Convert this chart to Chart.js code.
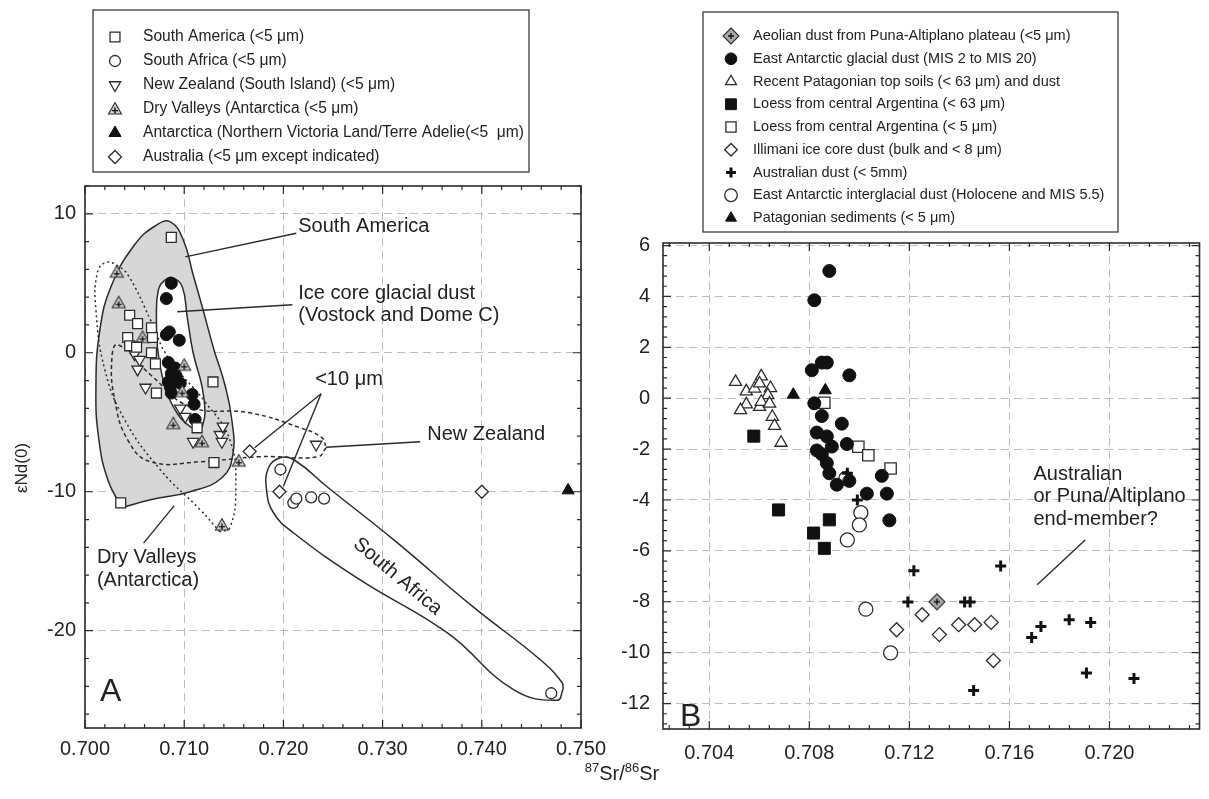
<!DOCTYPE html>
<html>
<head>
<meta charset="utf-8">
<script src="https://cdn.jsdelivr.net/npm/chart.js@4.4.1/dist/chart.umd.min.js"></script>
<style>
  body { margin: 0; background: #fff; width: 1209px; height: 799px; position: relative; overflow: hidden;
         font-family: "Liberation Sans", Arial, sans-serif; }
  #cA { position: absolute; left: 0; top: 0; }
  #cB { position: absolute; left: 600px; top: 0; }
  #xTitle { position: absolute; left: 542px; top: 760px; width: 160px; text-align: center;
            font-size: 20px; color: #222; }
  #xTitle sup { font-size: 13px; }
</style>
</head>
<body>
<canvas id="cA" width="620" height="799"></canvas>
<canvas id="cB" width="609" height="799"></canvas>
<div id="xTitle"><sup>87</sup>Sr/<sup>86</sup>Sr</div>
<script>
const FONT = '"Liberation Sans", Arial, sans-serif';
const INK = '#2b2b2b';
const TEXT = '#222';

// ---------- panel A : [87Sr/86Sr, eNd(0)] ----------
const xTicksA = [0.700, 0.710, 0.720, 0.730, 0.740, 0.750];
const yTicksA = [10, 0, -10, -20];

const southAmericaA = [
  [0.7087, 8.3], [0.7045, 2.7], [0.7053, 2.1], [0.7067, 1.8], [0.7068, 1.1],
  [0.7043, 1.1], [0.7045, 0.5], [0.7052, 0.4], [0.7067, 0.0], [0.7071, -0.8],
  [0.7072, -2.9], [0.7129, -2.1], [0.7113, -5.4], [0.7130, -7.9], [0.7036, -10.8]
];
const southAfricaA = [[0.7197, -8.4], [0.7210, -10.8], [0.7213, -10.5], [0.7228, -10.4], [0.7241, -10.5], [0.7470, -24.5]];
const newZealandA = [
  [0.7050, -0.1], [0.7055, -0.5], [0.7053, -1.2], [0.7061, -2.5], [0.7096, -4.0], [0.7101, -4.6],
  [0.7109, -6.4], [0.7136, -5.9], [0.7139, -5.3], [0.7138, -6.4], [0.7233, -6.6]
];
const dryValleysA = [[0.7032, 5.8], [0.7034, 3.6], [0.7058, 1.1], [0.7100, -0.9], [0.7098, -2.8], [0.7089, -5.1], [0.7118, -6.4], [0.7155, -7.8], [0.7138, -12.4]];
const antarcticaA = [[0.7487, -9.9]];
const australiaA = [[0.7166, -7.1], [0.7196, -10.0], [0.7400, -10.0]];
const iceCoreA = [
  [0.7087, 5.0], [0.7082, 3.9], [0.7082, 1.3], [0.7085, 1.5], [0.7095, 0.9], [0.7084, -0.7],
  [0.7087, -1.5], [0.7091, -1.1], [0.7084, -2.1], [0.7092, -1.7], [0.7086, -2.4], [0.7087, -2.9],
  [0.7096, -2.2], [0.7108, -3.0], [0.7110, -3.7], [0.7111, -4.8]
];

// field outlines (hand drawn in the original)
const envSouthAmerica = [
  [0.7037, -11.15], [0.7023, -9.14], [0.7014, -6.26], [0.7011, -2.66], [0.7015, 1.65], [0.7027, 4.89],
  [0.7050, 7.77], [0.7071, 9.14], [0.7086, 9.42], [0.7099, 8.13], [0.7109, 5.61], [0.7119, 3.09],
  [0.7130, 0.22], [0.7141, -2.3], [0.7148, -4.82], [0.7149, -7.34], [0.7138, -8.99], [0.7106, -10.0],
  [0.7066, -10.58], [0.7037, -11.15]
];
const envIceCore = [
  [0.7118, -5.4], [0.7106, -5.32], [0.7089, -3.88], [0.7078, -1.73], [0.7073, 0.43], [0.7072, 2.59],
  [0.7074, 4.53], [0.7081, 5.25], [0.7088, 5.4], [0.7098, 4.75], [0.7103, 2.59], [0.7109, 0],
  [0.7118, -2.45], [0.7121, -4.32], [0.7118, -5.4]
];
const envDryValleys = [
  [0.7136, -12.88], [0.7116, -11.29], [0.7076, -8.42], [0.7040, -4.82], [0.7020, -1.22], [0.7011, 3.09],
  [0.7012, 5.61], [0.7020, 6.47], [0.7033, 6.26], [0.7045, 5.4], [0.7066, 2.37], [0.7084, -0.36],
  [0.7121, -3.53], [0.7146, -6.26], [0.7152, -9.86], [0.7146, -12.59], [0.7136, -12.88]
];
const envNewZealand = [
  [0.7243, -6.83], [0.7235, -7.48], [0.7176, -7.48], [0.7116, -7.84], [0.7066, -7.84], [0.7043, -6.26],
  [0.7030, -3.38], [0.7027, -0.5], [0.7033, 0.58], [0.7066, -1.58], [0.7106, -3.88], [0.7166, -4.32],
  [0.7217, -5.4], [0.7239, -6.12], [0.7243, -6.83]
];
const envSouthAfrica = [
  [0.7482, -24.2], [0.7476, -25.0], [0.7432, -24.24], [0.7365, -20.14], [0.7277, -16.33], [0.7210, -12.95],
  [0.7190, -11.51], [0.7183, -9.86], [0.7185, -8.27], [0.7197, -7.55], [0.7212, -7.77], [0.7244, -9.64],
  [0.7311, -13.45], [0.7391, -18.27], [0.7459, -22.09], [0.7481, -23.74], [0.7482, -24.2]
];
const leadersA = [
  [[0.7101, 6.9], [0.7213, 8.6]],
  [[0.7093, 2.95], [0.7209, 3.45]],
  [[0.7238, -2.95], [0.7171, -6.83]],
  [[0.7238, -2.95], [0.7200, -9.6]],
  [[0.7243, -6.8], [0.7338, -6.4]],
  [[0.7059, -13.7], [0.7090, -11.0]]
];

// ---------- panel B ----------
const xTicksB = [0.704, 0.708, 0.712, 0.716, 0.720];
const yTicksB = [6, 4, 2, 0, -2, -4, -6, -8, -10, -12];

const punaB = [[0.7131, -8.0]];
const glacialB = [
  [0.7088, 5.0], [0.7082, 3.85], [0.7081, 1.1], [0.7085, 1.4], [0.7087, 1.4], [0.7096, 0.9],
  [0.7082, -0.2], [0.7085, -0.7], [0.7083, -1.35], [0.7093, -1.0], [0.7087, -1.5], [0.7089, -1.9],
  [0.7085, -2.2], [0.7095, -1.8], [0.7083, -2.05], [0.7088, -2.95], [0.7091, -3.4], [0.7087, -2.55],
  [0.7096, -3.25], [0.7109, -3.05], [0.7103, -3.75], [0.7111, -3.75], [0.7112, -4.8]
];
const topSoilsB = [
  [0.70505, 0.64], [0.70608, 0.86], [0.70548, 0.27], [0.70581, 0.38], [0.70601, 0.58], [0.70645, 0.4],
  [0.70634, 0.12], [0.70548, -0.24], [0.70525, -0.47], [0.70601, -0.34], [0.70608, -0.14], [0.70641, -0.21],
  [0.70652, -0.73], [0.70661, -1.09], [0.70687, -1.75]
];
const loess63B = [[0.70578, -1.49], [0.70677, -4.39], [0.70817, -5.3], [0.7088, -4.78], [0.7086, -5.9]];
const loess5B = [[0.7086, -0.18], [0.70996, -1.91], [0.71036, -2.24], [0.71125, -2.76]];
const illimaniB = [[0.71149, -9.1], [0.71251, -8.51], [0.7132, -9.29], [0.71397, -8.9], [0.71461, -8.9], [0.71527, -8.81], [0.71536, -10.31]];
const australianB = [
  [0.70952, -2.95], [0.70992, -4.0], [0.71218, -6.78], [0.71194, -8.01], [0.71421, -8.01], [0.71443, -8.01],
  [0.71565, -6.59], [0.71457, -11.49], [0.71689, -9.4], [0.71726, -8.97], [0.71839, -8.71], [0.71925, -8.81],
  [0.71908, -10.8], [0.72098, -11.02]
];
const interglacialB = [[0.70946, -3.15], [0.71006, -4.5], [0.7100, -4.98], [0.70952, -5.57], [0.71026, -8.29], [0.71125, -10.01]];
const sedimentsB = [[0.70736, 0.14], [0.70864, 0.31]];
const leadersB = [[[0.71711, -7.33], [0.71903, -5.57]]];

// ---------- helpers ----------
const pts = arr => arr.map(p => ({ x: p[0], y: p[1] }));

function makeIcon(kind) {
  const c = document.createElement('canvas');
  const s = kind === 'puna' ? 18 : 16;
  c.width = s; c.height = s;
  const g = c.getContext('2d');
  const m = s / 2;
  g.lineWidth = 1.1; g.strokeStyle = INK;
  g.beginPath();
  if (kind === 'puna') {
    g.moveTo(m, 1); g.lineTo(s - 1, m); g.lineTo(m, s - 1); g.lineTo(1, m); g.closePath();
    g.fillStyle = '#a9a9a9';
  } else {
    g.moveTo(m, 1.5); g.lineTo(s - 1.5, s - 3); g.lineTo(1.5, s - 3); g.closePath();
    g.fillStyle = '#cdcdcd';
  }
  g.fill(); g.stroke();
  const cy = kind === 'puna' ? m : s * 0.6;
  g.lineWidth = 1.4; g.strokeStyle = '#111';
  g.beginPath(); g.moveTo(m - 3, cy); g.lineTo(m + 3, cy); g.moveTo(m, cy - 3); g.lineTo(m, cy + 3); g.stroke();
  return c;
}

const OPEN = { backgroundColor: '#fff', borderColor: INK, borderWidth: 1.3 };
const SOLID = { backgroundColor: '#111', borderColor: '#111', borderWidth: 1 };

function series(label, data, style, inLegend = true) {
  return Object.assign({ label, data: pts(data), showLine: false, order: 0, inLegend }, style);
}
function outline(data, style) {
  return Object.assign({ type: 'line', data: pts(data), pointRadius: 0, pointHoverRadius: 0, tension: 0.45,
    borderColor: INK, borderWidth: 1.5, fill: false, order: 10, inLegend: false }, style);
}

function minorTicks(ctx, a, scale, majors, horiz) {
  const m = majors.slice().sort((p, q) => p - q);
  const step = (m[1] - m[0]) / 5;
  let v = m[0] - Math.floor((m[0] - scale.min) / step + 1e-6) * step;
  for (; v <= scale.max + step * 1e-3; v += step) {
    const major = m.some(t => Math.abs(t - v) < step / 10);
    const len = major ? 8 : 4;
    const p = scale.getPixelForValue(v);
    ctx.beginPath();
    if (horiz) {
      ctx.moveTo(p, a.bottom); ctx.lineTo(p, a.bottom - len);
      ctx.moveTo(p, a.top); ctx.lineTo(p, a.top + len);
    } else {
      ctx.moveTo(a.left, p); ctx.lineTo(a.left + len, p);
      ctx.moveTo(a.right, p); ctx.lineTo(a.right - len, p);
    }
    ctx.stroke();
  }
}

const decor = {
  id: 'decor',
  afterDatasetsDraw(chart, args, o) {
    const { ctx, scales: { x, y } } = chart;
    ctx.save();
    ctx.fillStyle = TEXT;
    for (const n of o.notes) {
      ctx.save();
      ctx.font = (n.size || 20) + 'px ' + FONT;
      ctx.textAlign = n.align || 'left';
      ctx.textBaseline = 'middle';
      ctx.translate(x.getPixelForValue(n.x), y.getPixelForValue(n.y));
      if (n.rot) ctx.rotate(n.rot * Math.PI / 180);
      ctx.fillText(n.t, 0, 0);
      ctx.restore();
    }
    ctx.restore();
  },
  afterDraw(chart, args, o) {
    const { ctx, chartArea: a, scales: { x, y } } = chart;
    ctx.save();
    ctx.strokeStyle = INK;
    ctx.lineWidth = 1.6;
    ctx.strokeRect(a.left, a.top, a.right - a.left, a.bottom - a.top);
    ctx.lineWidth = 1.2;
    minorTicks(ctx, a, x, o.xTicks, true);
    minorTicks(ctx, a, y, o.yTicks, false);

    const L = o.legend;
    ctx.lineWidth = 1.2;
    ctx.strokeRect(L.box[0], L.box[1], L.box[2] - L.box[0], L.box[3] - L.box[1]);
    ctx.font = L.size + 'px ' + FONT;
    ctx.textBaseline = 'middle';
    ctx.textAlign = 'left';
    chart.data.datasets.filter(d => d.inLegend).forEach((d, i) => {
      const yy = L.row0 + i * L.rowH;
      ctx.save();
      ctx.fillStyle = d.backgroundColor || INK;
      ctx.strokeStyle = d.borderColor || INK;
      ctx.lineWidth = d.borderWidth || 1;
      Chart.helpers.drawPoint(ctx, { pointStyle: d.pointStyle, radius: d.pointRadius * L.scale,
        rotation: d.pointRotation || 0, borderWidth: d.borderWidth || 1 }, L.symX, yy);
      ctx.restore();
      ctx.fillStyle = TEXT;
      ctx.fillText(d.label, L.textX, yy);
    });

    if (o.yTitle) {
      ctx.save();
      ctx.fillStyle = TEXT;
      ctx.font = '17px ' + FONT;
      ctx.textAlign = 'center';
      ctx.textBaseline = 'middle';
      ctx.translate(o.yTitle.x, o.yTitle.y);
      ctx.rotate(-Math.PI / 2);
      ctx.fillText(o.yTitle.text, 0, 0);
      ctx.restore();
    }
    ctx.restore();
  }
};

function options(c) {
  const tickFont = { family: FONT, size: 20 };
  return {
    responsive: false,
    animation: false,
    events: [],
    layout: { padding: { left: 0, right: c.padRight, top: c.padTop, bottom: 0 } },
    plugins: { legend: { display: false }, tooltip: { enabled: false }, decor: c.decor },
    scales: {
      x: {
        type: 'linear', min: c.xMin, max: c.xMax,
        afterBuildTicks: s => { s.ticks = c.decor.xTicks.map(v => ({ value: v })); },
        afterFit: s => { s.height = c.xAxisH; },
        grid: { color: '#bcbcbc', lineWidth: 1, drawTicks: false },
        border: { display: false, dash: [8, 5] },
        ticks: { color: TEXT, font: tickFont, padding: c.xPad, maxRotation: 0, autoSkip: false,
                 callback: v => Number(v).toFixed(3) }
      },
      y: {
        type: 'linear', min: c.yMin, max: c.yMax,
        afterBuildTicks: s => { s.ticks = c.decor.yTicks.map(v => ({ value: v })); },
        afterFit: s => { s.width = c.yAxisW; },
        grid: { color: '#bcbcbc', lineWidth: 1, drawTicks: false },
        border: { display: false, dash: [8, 5] },
        ticks: { color: TEXT, font: tickFont, padding: c.yPad, autoSkip: false,
                 callback: v => String(Math.round(v)) }
      }
    }
  };
}

const dvIcon = makeIcon('dv');
const punaIcon = makeIcon('puna');

// ---------- chart A ----------
const datasetsA = [
  series('South America (<5 μm)', southAmericaA, Object.assign({ pointStyle: 'rect', pointRadius: 7 }, OPEN)),
  series('South Africa (<5 μm)', southAfricaA, Object.assign({ pointStyle: 'circle', pointRadius: 5.5 }, OPEN)),
  series('New Zealand (South Island) (<5 μm)', newZealandA, Object.assign({ pointStyle: 'triangle', pointRotation: 180, pointRadius: 6.5 }, OPEN)),
  series('Dry Valleys (Antarctica (<5 μm)', dryValleysA, { pointStyle: dvIcon, pointRadius: 7, borderColor: INK, backgroundColor: '#ccc', borderWidth: 1 }),
  series('Antarctica (Northern Victoria Land/Terre Adelie(<5  μm)', antarcticaA, Object.assign({ pointStyle: 'triangle', pointRadius: 7 }, SOLID)),
  series('Australia (<5 μm except indicated)', australiaA, Object.assign({ pointStyle: 'rectRot', pointRadius: 6.5 }, OPEN)),
  series('Ice core glacial dust', iceCoreA, Object.assign({ pointStyle: 'circle', pointRadius: 6 }, SOLID), false),
  outline(envNewZealand, { borderDash: [4, 3], order: 11 }),
  outline(envDryValleys, { borderDash: [2, 3], order: 12 }),
  outline(envSouthAfrica, { order: 11 }),
  outline(envIceCore, { backgroundColor: '#fff', fill: 'shape', order: 13 }),
  outline(envSouthAmerica, { backgroundColor: '#d7d7d7', fill: 'shape', order: 14 })
].concat(leadersA.map(l => outline(l, { tension: 0, borderWidth: 1.4 })));

new Chart(document.getElementById('cA'), {
  type: 'scatter',
  data: { datasets: datasetsA },
  options: options({
    xMin: 0.700, xMax: 0.750, yMin: -27, yMax: 12,
    padRight: 39, padTop: 186, xAxisH: 71, yAxisW: 85, xPad: 9, yPad: 9,
    decor: {
      xTicks: xTicksA, yTicks: yTicksA,
      legend: { box: [93, 10, 529, 172], symX: 115, textX: 143, row0: 37, rowH: 24, size: 15.6, scale: 1 },
      yTitle: { text: 'εNd(0)', x: 22, y: 468 },
      notes: [
        { t: 'South America', x: 0.7215, y: 9.1 },
        { t: 'Ice core glacial dust', x: 0.7215, y: 4.3 },
        { t: '(Vostock and Dome C)', x: 0.7215, y: 2.65 },
        { t: '<10 μm', x: 0.7232, y: -1.95 },
        { t: 'New Zealand', x: 0.7345, y: -5.9 },
        { t: 'Dry Valleys', x: 0.7012, y: -14.7 },
        { t: '(Antarctica)', x: 0.7012, y: -16.4 },
        { t: 'South Africa', x: 0.7315, y: -16.1, rot: 40, align: 'center' },
        { t: 'A', x: 0.7015, y: -24.4, size: 32 }
      ]
    }
  }),
  plugins: [decor]
});

// ---------- chart B ----------
const datasetsB = [
  series('Aeolian dust from Puna-Altiplano plateau (<5 μm)', punaB, { pointStyle: punaIcon, pointRadius: 8, borderColor: INK, backgroundColor: '#aaa', borderWidth: 1 }),
  series('East Antarctic glacial dust (MIS 2 to MIS 20)', glacialB, Object.assign({ pointStyle: 'circle', pointRadius: 6.5 }, SOLID)),
  series('Recent Patagonian top soils (< 63 μm) and dust', topSoilsB, Object.assign({ pointStyle: 'triangle', pointRadius: 7 }, OPEN)),
  series('Loess from central Argentina (< 63 μm)', loess63B, Object.assign({ pointStyle: 'rect', pointRadius: 8.5 }, SOLID)),
  series('Loess from central Argentina (< 5 μm)', loess5B, Object.assign({ pointStyle: 'rect', pointRadius: 8 }, OPEN)),
  series('Illimani ice core dust (bulk and < 8 μm)', illimaniB, Object.assign({ pointStyle: 'rectRot', pointRadius: 7 }, OPEN)),
  series('Australian dust (< 5mm)', australianB, { pointStyle: 'cross', pointRadius: 5.5, borderColor: '#111', backgroundColor: '#111', borderWidth: 3 }),
  series('East Antarctic interglacial dust (Holocene and MIS 5.5)', interglacialB, Object.assign({ pointStyle: 'circle', pointRadius: 7 }, OPEN)),
  series('Patagonian sediments (< 5 μm)', sedimentsB, Object.assign({ pointStyle: 'triangle', pointRadius: 7 }, SOLID))
].concat(leadersB.map(l => outline(l, { tension: 0, borderWidth: 1.4 })));

new Chart(document.getElementById('cB'), {
  type: 'scatter',
  data: { datasets: datasetsB },
  options: options({
    xMin: 0.70215, xMax: 0.7236, yMin: -13, yMax: 6.1,
    padRight: 6, padTop: 243, xAxisH: 70, yAxisW: 63, xPad: 12, yPad: 13,
    decor: {
      xTicks: xTicksB, yTicks: yTicksB,
      legend: { box: [103, 12, 518, 232], symX: 131, textX: 153, row0: 36, rowH: 22.75, size: 14.5, scale: 0.9 },
      notes: [
        { t: 'Australian', x: 0.71696, y: -2.98 },
        { t: 'or Puna/Altiplano', x: 0.71696, y: -3.88 },
        { t: 'end-member?', x: 0.71696, y: -4.78 },
        { t: 'B', x: 0.70283, y: -12.55, size: 32 }
      ]
    }
  }),
  plugins: [decor]
});
</script>
</body>
</html>
